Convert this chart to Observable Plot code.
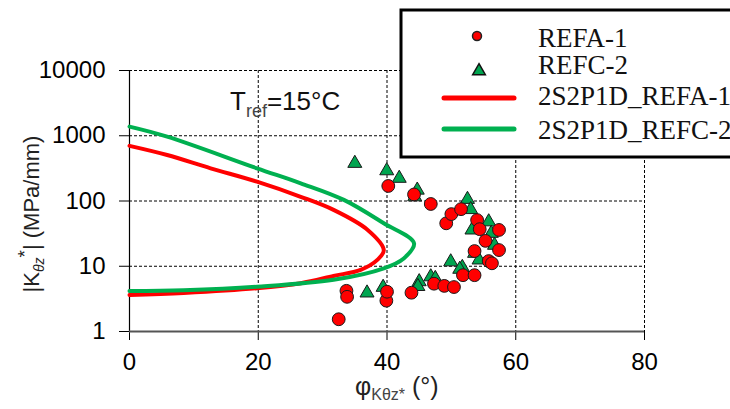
<!DOCTYPE html>
<html>
<head>
<meta charset="utf-8">
<script src="https://cdn.jsdelivr.net/npm/d3@7"></script>
<script src="https://cdn.jsdelivr.net/npm/@observablehq/plot@0.6"></script>
<style>
  html, body { margin: 0; padding: 0; background: #fff; }
  #chart { position: relative; width: 730px; height: 409px; overflow: hidden; }
</style>
</head>
<body>
<div id="chart"></div>
<script>
// ---- tick labels / grid ----
const phiTicks = [0, 20, 40, 60, 80];
const kTicks = [1, 10, 100, 1000, 10000];
const phiGrid = [20, 40, 60, 80];
const kGrid = [10, 100, 1000, 10000];

// ---- series names ----
const seriesNames = ["REFA-1", "REFC-2", "2S2P1D_REFA-1", "2S2P1D_REFC-2"];

// ---- REFA-1 measured (circles) ----
const refaPhi = [32.5, 33.7, 33.8, 39.9, 40.0, 40.2, 43.8, 44.2, 46.8, 47.3, 48.9, 50.4, 49.2, 50.0, 51.5, 51.8, 53.6, 54.0, 54.4, 57.4, 55.3, 57.4, 53.6, 55.8, 56.3];
const refaK   = [1.54, 4.2, 3.4, 2.97, 4.07, 170, 3.93, 126, 90, 5.4, 5.0, 4.8, 45.5, 63, 75, 7.3, 7.3, 51, 37, 36, 24.5, 17.7, 17.1, 12.0, 11.1];

// ---- REFC-2 measured (triangles) ----
const refcPhi = [35.0, 39.96, 41.9, 44.7, 44.3, 52.5, 53.0, 55.8, 53.2, 56.2, 56.7, 53.6, 54.3, 49.9, 51.7, 51.3, 46.8, 47.5, 45.0, 44.8, 36.9, 39.4];
const refcK   = [378, 291, 223, 147, 116, 106, 74, 48, 36, 32, 21, 15.8, 12.5, 11.7, 9.6, 9.0, 6.9, 6.5, 5.8, 4.9, 3.9, 4.76];

// ---- 2S2P1D model REFA-1 (red line) ----
const modAPhi = [0, 8.4, 19.8, 26.6, 31.7, 35.9, 38.5, 39.5, 37.0, 31.7, 26.6, 19.8, 12.6, 5.85, 0];
const modAK   = [3.63, 3.9, 4.6, 5.5, 7.1, 8.8, 12.5, 17.7, 36, 73, 116, 198, 317, 507, 700];

// ---- 2S2P1D model REFC-2 (green line) ----
const modCPhi = [0, 8.4, 19.8, 31.7, 39.5, 42.6, 44.2, 39.5, 33.3, 26.6, 19.8, 5.85, 0];
const modCK   = [4.17, 4.3, 4.86, 6.2, 9.3, 13.2, 22.5, 45.5, 104, 187, 317, 968, 1380];

const zip = (xs, ys) => xs.map((x, i) => ({phi: x, k: ys[i]}));
const refa = zip(refaPhi, refaK);
const refc = zip(refcPhi, refcK);
const modA = zip(modAPhi, modAK);
const modC = zip(modCPhi, modCK);

const RED = "#ff0000", GREEN = "#00b050", TRI = "#00a550";
const SANS = "'Liberation Sans', Arial, sans-serif";
const SERIF = "'Liberation Serif', 'Times New Roman', serif";

const plot = Plot.plot({
  width: 730, height: 409,
  marginLeft: 129, marginRight: 86, marginTop: 70, marginBottom: 78,
  style: {fontFamily: SANS, color: "#000", background: "#fff"},
  x: {domain: [0, 80]},
  y: {type: "log", domain: [1, 10000]},
  marks: [
    Plot.ruleY(kGrid, {y: d => d, stroke: "#000", strokeWidth: 1, strokeDasharray: "3,2"}),
    Plot.ruleX(phiGrid, {x: d => d, stroke: "#000", strokeWidth: 1, strokeDasharray: "3,2"}),
    Plot.axisY({ticks: kTicks, tickSize: 10, tickPadding: 14, tickFormat: d => String(d), fontSize: 24, label: null, stroke: "#000"}),
    Plot.axisX({ticks: phiTicks, tickSize: 9, tickPadding: 12, tickFormat: d => String(d), fontSize: 24, label: null, stroke: "#000"}),
    Plot.ruleX([0], {stroke: "#000", strokeWidth: 1.2}),
    Plot.ruleY([1], {stroke: "#555", strokeWidth: 2}),
    Plot.line(modA, {x: "phi", y: "k", stroke: RED, strokeWidth: 4, curve: "catmull-rom"}),
    Plot.line(modC, {x: "phi", y: "k", stroke: GREEN, strokeWidth: 4, curve: "catmull-rom"}),
    Plot.dot(refc, {x: "phi", y: "k", symbol: "triangle", r: 5.2, fill: TRI, stroke: "#1a1a1a", strokeWidth: 1}),
    Plot.dot(refa, {x: "phi", y: "k", symbol: "circle", r: 6.4, fill: RED, stroke: "#1a1a1a", strokeWidth: 1})
  ]
});
document.getElementById("chart").appendChild(plot);

const svg = d3.select(plot);

// Axis titles
const xl = svg.append("text").attr("x", 355).attr("y", 395).attr("text-anchor", "start")
  .style("font-family", SANS).style("font-size", "25px").attr("fill", "#222");
xl.append("tspan").text("φ");
xl.append("tspan").style("font-size", "16px").attr("dy", 5).attr("fill", "#444").text("Kθz*");
xl.append("tspan").attr("dy", -5).text(" (°)");

const yl = svg.append("text").attr("transform", "translate(39,214) rotate(-90)")
  .attr("text-anchor", "middle").style("font-family", SANS).style("font-size", "22px").attr("fill", "#222");
yl.append("tspan").text("|K");
yl.append("tspan").style("font-size", "14px").style("font-style", "italic").attr("dy", 5).text("θz");
yl.append("tspan").style("font-size", "19px").attr("dy", -13).text("*");
yl.append("tspan").attr("dy", 8).text("| (MPa/mm)");

// Annotation
const tr = svg.append("text").attr("x", 230).attr("y", 110).attr("text-anchor", "start")
  .style("font-family", SANS).style("font-size", "26px").attr("fill", "#111");
tr.append("tspan").text("T");
tr.append("tspan").style("font-size", "18px").attr("dy", 7).attr("fill", "#444").text("ref");
tr.append("tspan").attr("dy", -7).text("=15°C");

// Legend
const lg = svg.append("g");
lg.append("rect").attr("x", 401).attr("y", 10).attr("width", 360).attr("height", 147)
  .attr("fill", "#fff").attr("stroke", "#000").attr("stroke-width", 3);
lg.append("circle").attr("cx", 477).attr("cy", 36).attr("r", 4.5).attr("fill", RED).attr("stroke", "#222").attr("stroke-width", 1.5);
lg.append("path").attr("d", d3.symbol(d3.symbolTriangle, 70)()).attr("transform", "translate(479,71)")
  .attr("fill", TRI).attr("stroke", "#111").attr("stroke-width", 1.5);
lg.append("line").attr("x1", 444).attr("x2", 514).attr("y1", 98).attr("y2", 98).attr("stroke", RED).attr("stroke-width", 5).attr("stroke-linecap", "round");
lg.append("line").attr("x1", 444).attr("x2", 514).attr("y1", 129).attr("y2", 129).attr("stroke", GREEN).attr("stroke-width", 5).attr("stroke-linecap", "round");
const ly = [47, 74, 105, 139];
seriesNames.forEach((n, i) => {
  lg.append("text").attr("x", 538).attr("y", ly[i]).attr("text-anchor", "start")
    .style("font-family", SERIF).style("font-size", "27px").attr("fill", "#111").text(n);
});
</script>
</body>
</html>
